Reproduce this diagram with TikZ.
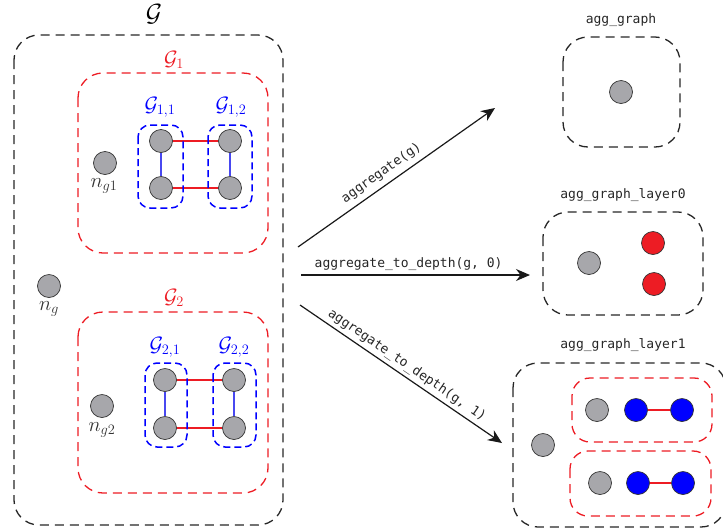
\documentclass[tikz,border=0pt]{standalone}
\usepackage{fontspec}
\setmonofont{DejaVu Sans Mono}
\usetikzlibrary{arrows.meta}
\definecolor{ngrey}{HTML}{A7A7AB}
\definecolor{nred}{HTML}{ED1C24}
\definecolor{nblue}{HTML}{0000FF}
\definecolor{eblue}{HTML}{4848F0}
\begin{document}
\begin{tikzpicture}[x=1pt,y=-1pt,
 vert/.style={circle,draw=black!80,line width=0.7pt,minimum size=23pt,inner sep=0pt},
 gv/.style={vert,fill=ngrey}, rv/.style={vert,fill=nred}, bv/.style={vert,fill=nblue},
 kbox/.style={draw=black!85,line width=1.3pt,dash pattern=on 9pt off 6pt,rounded corners=25pt},
 rbox/.style={draw=nred,line width=1.3pt,dash pattern=on 9pt off 6pt,rounded corners=25pt},
 bbox/.style={draw=nblue,line width=1.5pt,dash pattern=on 7pt off 4pt,rounded corners=12pt},
 redge/.style={draw=nred,line width=1.1pt}, bedge/.style={draw=eblue,line width=1.1pt},
 arr/.style={draw=black!90,line width=1.2pt,-{Stealth[length=14pt,width=12pt]}},
 code/.style={font=\ttfamily\fontsize{13}{15}\selectfont, text=black!85},
 mlab/.style={font=\fontsize{20}{24}\selectfont, inner sep=0pt}]
\useasboundingbox (0,0) rectangle (723,531);

% ---------- left graph G ----------
\draw[kbox] (14,35) rectangle (283,525);
\node[font=\fontsize{28}{32}\selectfont, inner sep=0pt] (lG) at (154,14) {$\mathcal{G}$};

% G1
\draw[rbox] (78,73) rectangle (268,253);
\node[mlab, text=nred] (lG1) at (174,60) {$\mathcal{G}_1$};
\node[gv] (ng1) at (105,163) {};
\node[mlab, text=black!80] (lng1) at (104,186) {$n_{g1}$};
\node[gv] (a1) at (161,141) {};
\node[gv] (a2) at (161,188) {};
\node[gv] (a3) at (230,141) {};
\node[gv] (a4) at (230,188) {};
\draw[bedge] (a1) -- (a2);
\draw[bedge] (a3) -- (a4);
\draw[redge] (a1) -- (a3);
\draw[redge] (a2) -- (a4);
\draw[bbox] (138,125) rectangle (183,208);
\draw[bbox] (208,125) rectangle (252,208);
\node[mlab, text=nblue] (lG11) at (160,107) {$\mathcal{G}_{1,1}$};
\node[mlab, text=nblue] (lG12) at (231,107) {$\mathcal{G}_{1,2}$};

% n_g
\node[gv] (ng) at (49,286) {};
\node[mlab, text=black!80] (lng) at (49,309) {$n_g$};

% G2
\draw[rbox] (78,312) rectangle (268,493);
\node[mlab, text=nred] (lG2) at (174,298) {$\mathcal{G}_2$};
\node[gv] (ng2) at (102,406) {};
\node[mlab, text=black!80] (lng2) at (102,430) {$n_{g2}$};
\node[gv] (b1) at (165,380) {};
\node[gv] (b2) at (165,428) {};
\node[gv] (b3) at (234,380) {};
\node[gv] (b4) at (234,428) {};
\draw[bedge] (b1) -- (b2);
\draw[bedge] (b3) -- (b4);
\draw[redge] (b1) -- (b3);
\draw[redge] (b2) -- (b4);
\draw[bbox] (145,363) rectangle (187,447);
\draw[bbox] (213,363) rectangle (256,447);
\node[mlab, text=nblue] (lG21) at (165,347) {$\mathcal{G}_{2,1}$};
\node[mlab, text=nblue] (lG22) at (234,347) {$\mathcal{G}_{2,2}$};

% ---------- arrows ----------
\coordinate (s1) at (298,247);
\coordinate (e1) at (495,108);
\coordinate (s2) at (301,275);
\coordinate (e2) at (530,275);
\coordinate (s3) at (300,305);
\coordinate (e3) at (502,443);
\draw[arr] (s1) -- node[code, sloped, above, pos=0.46, yshift=2pt] (t1) {aggregate(g)} (e1);
\draw[arr] (s2) -- node[code, above, pos=0.47, yshift=1pt] (t2) {aggregate\_to\_depth(g, 0)} (e2);
\draw[arr] (s3) -- node[code, sloped, above, pos=0.5, yshift=0pt] (t3) {aggregate\_to\_depth(g, 1)} (e3);

% ---------- agg_graph ----------
\node[code] (l1) at (621,20) {agg\_graph};
\draw[kbox] (563,37) rectangle (680,147);
\node[gv] (c1) at (621,92) {};

% ---------- agg_graph_layer0 ----------
\node[code] (l2) at (623,195) {agg\_graph\_layer0};
\draw[kbox] (543,212) rectangle (703,315);
\node[gv] (d1) at (589,263) {};
\node[rv] (d2) at (653,243) {};
\node[rv] (d3) at (654,284) {};

% ---------- agg_graph_layer1 ----------
\node[code] (l3) at (623,345) {agg\_graph\_layer1};
\draw[kbox] (513,363) rectangle (726,527);
\node[gv] (f0) at (543,445) {};
\draw[rbox, rounded corners=18pt] (572,378) rectangle (712,442);
\draw[rbox, rounded corners=18pt] (570,451) rectangle (711,516);
\node[gv] (f1) at (597,410) {};
\node[bv] (f2) at (636,410) {};
\node[bv] (f3) at (682,410) {};
\node[gv] (g1) at (600,483) {};
\node[bv] (g2) at (638,483) {};
\node[bv] (g3) at (683,483) {};
\draw[redge] (f2) -- (f3);
\draw[redge] (g2) -- (g3);
\end{tikzpicture}
\end{document}
